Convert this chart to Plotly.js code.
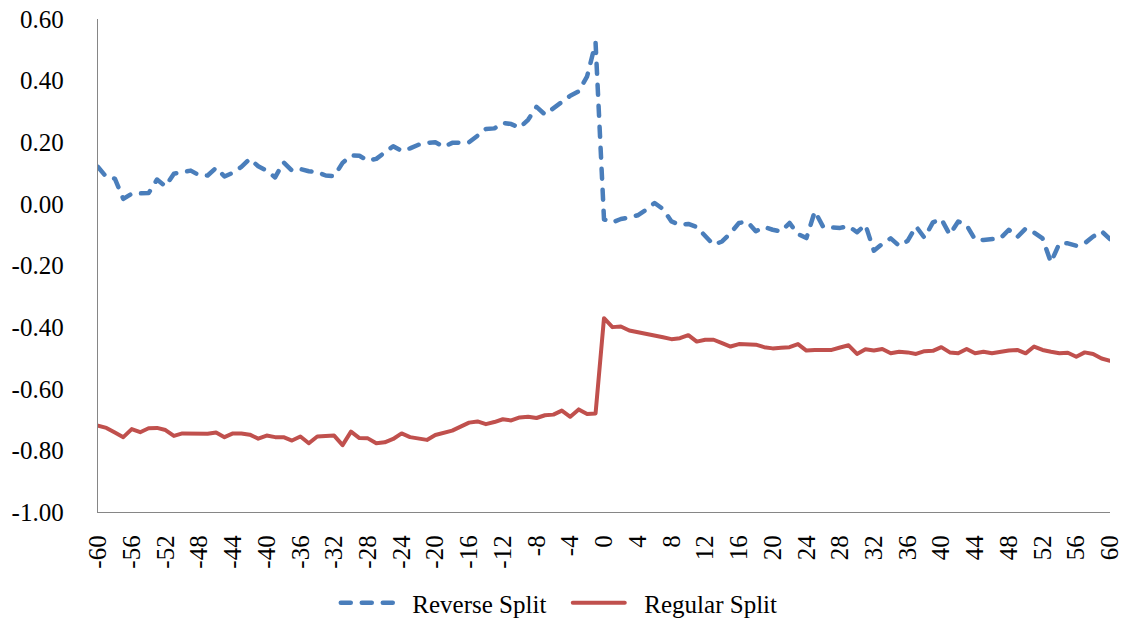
<!DOCTYPE html>
<html>
<head>
<meta charset="utf-8">
<script src="https://cdn.plot.ly/plotly-3.0.1.min.js"></script>
<style>
html,body{margin:0;padding:0;background:#fff;}
#chart{width:1131px;height:623px;}
.scatterlayer .js-line, .legend .js-line{stroke-linecap:round;stroke-linejoin:round;}
</style>
</head>
<body>
<div id="chart"></div>
<script>
// Event day (categories)
const days = [-60,-59,-58,-57,-56,-55,-54,-53,-52,-51,-50,-49,-48,-47,-46,-45,-44,-43,-42,-41,
  -40,-39,-38,-37,-36,-35,-34,-33,-32,-31,-30,-29,-28,-27,-26,-25,-24,-23,-22,-21,
  -20,-19,-18,-17,-16,-15,-14,-13,-12,-11,-10,-9,-8,-7,-6,-5,-4,-3,-2,-1,
  0,1,2,3,4,5,6,7,8,9,10,11,12,13,14,15,16,17,18,19,
  20,21,22,23,24,25,26,27,28,29,30,31,32,33,34,35,36,37,38,39,
  40,41,42,43,44,45,46,47,48,49,50,51,52,53,54,55,56,57,58,59,60];

const reverseSplit = [0.120,0.087,0.082,0.016,0.033,0.033,0.035,0.079,0.057,0.098,
  0.102,0.108,0.093,0.092,0.117,0.089,0.101,0.120,0.146,0.122,
  0.108,0.086,0.135,0.108,0.113,0.106,0.103,0.092,0.090,0.133,
  0.157,0.156,0.140,0.146,0.167,0.187,0.172,0.180,0.192,0.198,
  0.200,0.185,0.198,0.198,0.200,0.221,0.243,0.245,0.263,0.259,
  0.247,0.273,0.315,0.290,0.311,0.330,0.351,0.365,0.414,0.523,
  -0.050,-0.060,-0.049,-0.044,-0.037,-0.019,0.003,-0.017,-0.057,-0.068,
  -0.065,-0.075,-0.105,-0.133,-0.122,-0.095,-0.062,-0.058,-0.089,-0.075,
  -0.084,-0.090,-0.062,-0.098,-0.111,-0.024,-0.075,-0.077,-0.078,-0.072,
  -0.092,-0.068,-0.152,-0.130,-0.112,-0.136,-0.120,-0.073,-0.110,-0.060,
  -0.049,-0.100,-0.057,-0.069,-0.116,-0.117,-0.115,-0.112,-0.084,-0.108,
  -0.080,-0.093,-0.112,-0.190,-0.128,-0.128,-0.136,-0.128,-0.106,-0.089,-0.114];

const regularSplit = [-0.720,-0.727,-0.742,-0.757,-0.731,-0.741,-0.728,-0.727,-0.734,-0.753,
  -0.745,-0.745,-0.746,-0.746,-0.742,-0.757,-0.745,-0.745,-0.749,-0.762,
  -0.752,-0.757,-0.757,-0.768,-0.755,-0.777,-0.755,-0.755,-0.752,-0.783,
  -0.739,-0.760,-0.761,-0.777,-0.774,-0.763,-0.745,-0.757,-0.760,-0.766,
  -0.750,-0.742,-0.736,-0.723,-0.710,-0.706,-0.715,-0.708,-0.699,-0.703,
  -0.693,-0.691,-0.695,-0.686,-0.684,-0.671,-0.691,-0.667,-0.682,-0.680,
  -0.371,-0.400,-0.398,-0.411,-0.416,-0.423,-0.425,-0.433,-0.439,-0.436,
  -0.426,-0.447,-0.441,-0.441,-0.452,-0.463,-0.455,-0.456,-0.457,-0.465,
  -0.469,-0.467,-0.465,-0.455,-0.476,-0.474,-0.474,-0.474,-0.466,-0.459,
  -0.487,-0.472,-0.476,-0.471,-0.485,-0.480,-0.482,-0.487,-0.478,-0.477,
  -0.465,-0.482,-0.485,-0.471,-0.485,-0.480,-0.485,-0.480,-0.476,-0.474,
  -0.485,-0.463,-0.474,-0.480,-0.485,-0.483,-0.496,-0.482,-0.487,-0.502,-0.509];

const xTickVals = [-60,-56,-52,-48,-44,-40,-36,-32,-28,-24,-20,-16,-12,-8,-4,0,4,8,12,16,20,24,28,32,36,40,44,48,52,56,60];
const yTickVals = [-1.0,-0.8,-0.6,-0.4,-0.2,0.0,0.2,0.4,0.6];
const yTickText = ['-1.00','-0.80','-0.60','-0.40','-0.20','0.00','0.20','0.40','0.60'];
const seriesNames = ['Reverse Split','Regular Split'];

const FONT = 'Liberation Serif';
const GAP = '\u2002\u200A';

const traces = [
  {x: days, y: reverseSplit, name: GAP + seriesNames[0], type: 'scatter', mode: 'lines',
   line: {color: '#4A7EBB', width: 4.5, dash: '10px,11px'}},
  {x: days, y: regularSplit, name: GAP + seriesNames[1], type: 'scatter', mode: 'lines',
   line: {color: '#C0504D', width: 4}}
];

const layout = {
  width: 1131, height: 623,
  margin: {l: 98, r: 21, t: 19, b: 111},
  paper_bgcolor: '#fff', plot_bgcolor: '#fff',
  font: {family: FONT, size: 25, color: '#000'},
  showlegend: true,
  legend: {orientation: 'h', xref: 'container', yref: 'container',
           x: 0.502, xanchor: 'center', y: 0.032, yanchor: 'middle',
           font: {family: FONT, size: 25, color: '#000'}, itemwidth: 52,
           entrywidth: 165, entrywidthmode: 'pixels'},
  xaxis: {range: [-60, 60], tickmode: 'array', tickvals: xTickVals, ticktext: xTickVals.map(String),
          tickangle: -90, showline: true, linecolor: '#868686', linewidth: 1.3,
          showgrid: false, zeroline: false, ticks: 'outside', ticklen: 12, tickcolor: 'rgba(0,0,0,0)',
          tickfont: {family: FONT, size: 25, color: '#000'}, fixedrange: true, automargin: false},
  yaxis: {range: [-1, 0.6], tickmode: 'array', tickvals: yTickVals, ticktext: yTickText,
          showline: true, linecolor: '#868686', linewidth: 1.3,
          showgrid: false, zeroline: false, ticks: 'outside', ticklen: 28, tickcolor: 'rgba(0,0,0,0)',
          tickfont: {family: FONT, size: 25, color: '#000'}, fixedrange: true, automargin: false}
};

Plotly.newPlot('chart', traces, layout, {displayModeBar: false, staticPlot: true});
</script>
</body>
</html>
